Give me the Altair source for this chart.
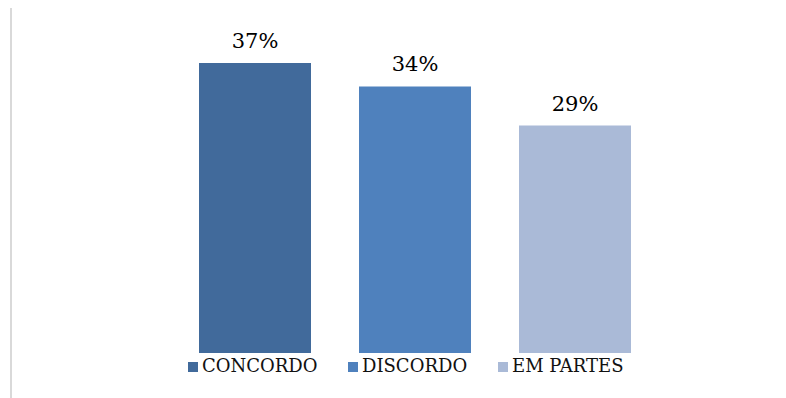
import altair as alt
import pandas as pd

categories = ["CONCORDO", "DISCORDO", "EM PARTES"]
values = [37, 34, 29]
labels = ["37%", "34%", "29%"]
colors = ["#416A9B", "#4F81BD", "#AABAD7"]

FONT = "DejaVu Serif"

df = pd.DataFrame({"cat": categories, "val": values, "lab": labels})

x = alt.X("cat:N", sort=categories, axis=None,
          scale=alt.Scale(paddingInner=0.3, paddingOuter=0.15))
y = alt.Y("val:Q", axis=None, scale=alt.Scale(domain=[0, 44], nice=False, zero=True))

bars = alt.Chart(df).mark_bar().encode(
    x=x, y=y,
    color=alt.Color("cat:N", sort=categories,
                    scale=alt.Scale(domain=categories, range=colors),
                    legend=alt.Legend(title=None, orient="none", direction="horizontal",
                                      legendX=9, legendY=350,
                                      symbolType="square", symbolSize=100,
                                      symbolStrokeWidth=0,
                                      labelFont=FONT, labelFontSize=18,
                                      labelColor="#111111", labelOffset=0,
                                      columnPadding=26, symbolOpacity=1))
)

text = alt.Chart(df).mark_text(font=FONT, fontSize=21, color="#000000",
                               baseline="alphabetic", dy=-15).encode(
    x=x, y=y, text="lab:N")

border = alt.Chart(df).mark_rule(color="#d9d9d9", strokeWidth=2).encode(
    x=alt.value(-164), y=alt.value(0), y2=alt.value(400))

chart = alt.layer(border, bars, text).properties(
    width=480, height=345,
    autosize=alt.AutoSizeParams(type="none"),
    padding={"left": 175, "top": 8, "right": 131, "bottom": 45},
    background="white"
).configure_view(strokeWidth=0, stroke="transparent")

chart.save("out.html", embed_options={"renderer": "svg", "actions": False})
